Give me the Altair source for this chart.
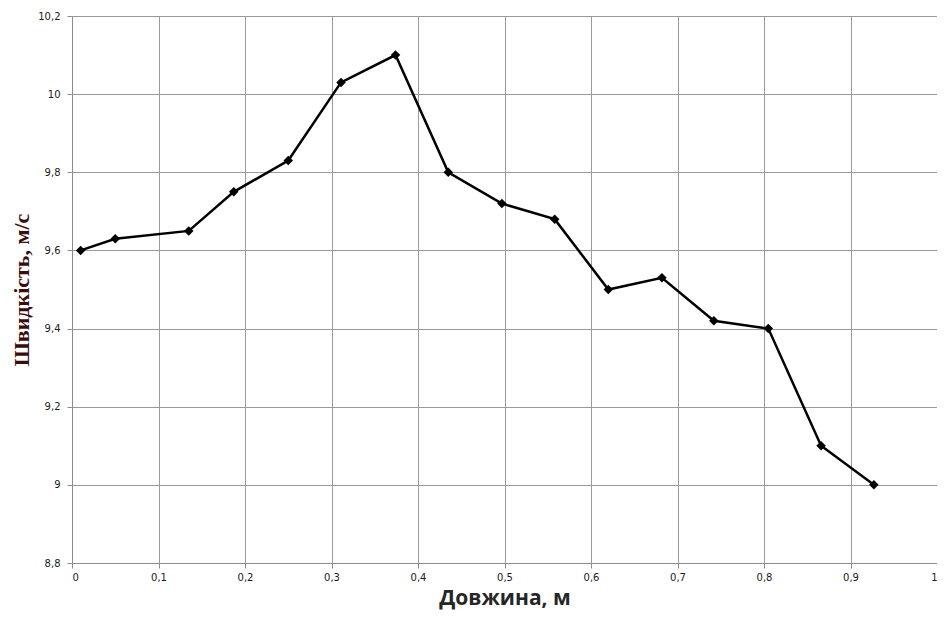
import altair as alt
import pandas as pd

length_m = [0.01, 0.05, 0.135, 0.187, 0.25, 0.311, 0.374, 0.435, 0.497, 0.558,
            0.62, 0.682, 0.742, 0.805, 0.866, 0.927]
speed = [9.60, 9.63, 9.65, 9.75, 9.83, 10.03, 10.10, 9.80, 9.72, 9.68,
         9.50, 9.53, 9.42, 9.40, 9.10, 9.00]

df = pd.DataFrame({"x": length_m, "y": speed})

x_enc = alt.X(
    "x:Q",
    scale=alt.Scale(domain=[0, 1], nice=False, zero=False),
    axis=alt.Axis(
        values=[0, 0.1, 0.2, 0.3, 0.4, 0.5, 0.6, 0.7, 0.8, 0.9, 1],
        labelExpr="replace(format(datum.value, '.1~f'), '.', ',')",
        title="Довжина, м",
        titleFont="Open Sans", titleFontSize=21, titleFontWeight="bold",
        titleColor="#262626", titleBaseline="alphabetic", titleY=41,
        labelFont="DejaVu Sans", labelFontSize=10, labelColor="#1a1a1a",
        labelPadding=4, tickSize=5, tickColor="#8c8c8c",
        domainColor="#8c8c8c", gridColor="#9a9a9a", gridWidth=1,
    ),
)
y_enc = alt.Y(
    "y:Q",
    scale=alt.Scale(domain=[8.8, 10.2], nice=False, zero=False),
    axis=alt.Axis(
        values=[8.8, 9.0, 9.2, 9.4, 9.6, 9.8, 10.0, 10.2],
        labelExpr="replace(format(datum.value, '.1~f'), '.', ',')",
        title="Швидкість,  м/с",
        titleFont="Liberation Serif", titleFontSize=22, titleFontWeight="bold",
        titleColor="#3a0c0c", titleBaseline="middle", titleX=-51,
        labelFont="DejaVu Sans", labelFontSize=10, labelColor="#1a1a1a",
        labelPadding=7, tickSize=5, tickColor="#8c8c8c",
        domainColor="#8c8c8c", gridColor="#9a9a9a", gridWidth=1,
    ),
)

line = alt.Chart(df).mark_line(color="black", strokeWidth=2.5).encode(x=x_enc, y=y_enc)
pts = alt.Chart(df).mark_point(shape="diamond", filled=True, color="black",
                               size=90, opacity=1).encode(x="x:Q", y="y:Q")

chart = (line + pts).properties(
    width=865, height=547,
    autosize=alt.AutoSizeParams(type="none"),
    padding={"left": 64, "top": 8, "right": 0, "bottom": 49},
).configure_view(stroke=None).configure(background="white")

chart.save("out.html", embed_options={"renderer": "svg", "actions": False})
